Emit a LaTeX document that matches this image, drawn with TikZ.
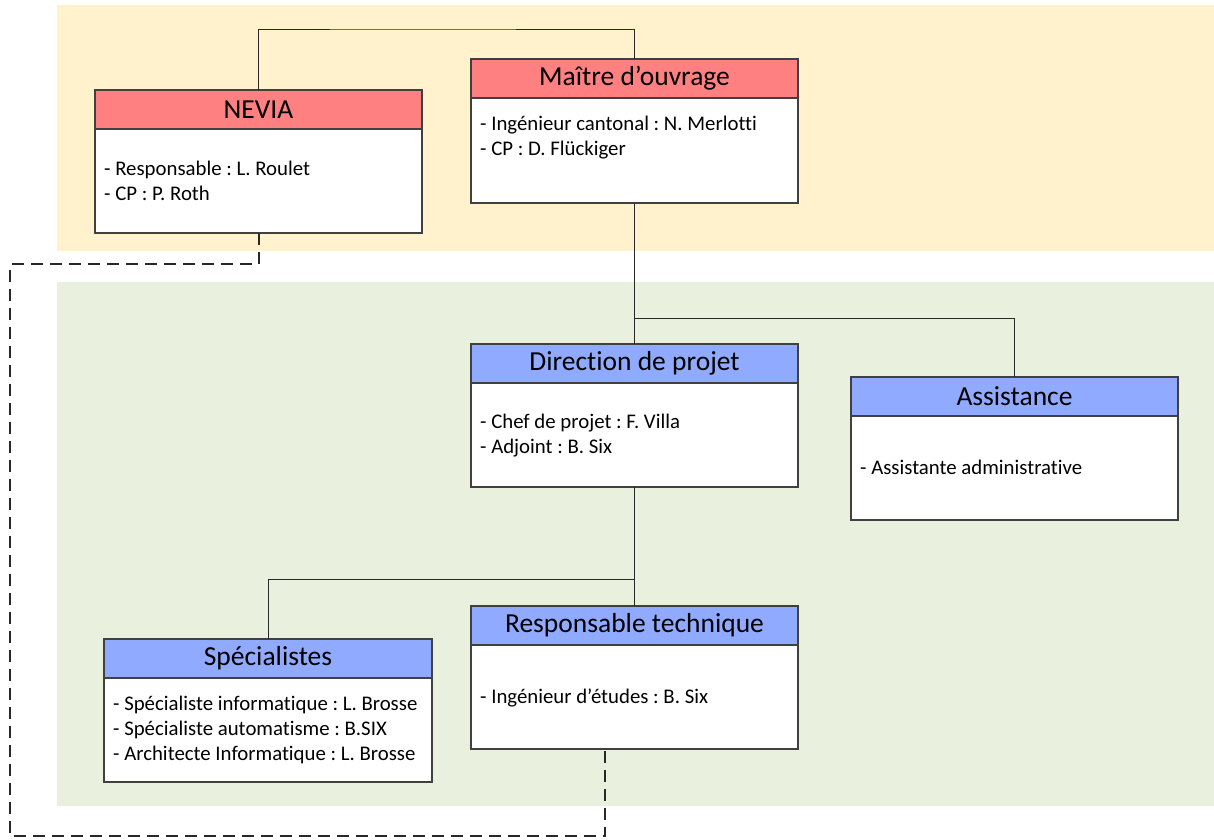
\documentclass[tikz,border=0pt]{standalone}
\usepackage{fontspec}
\setmainfont{Carlito}[Ligatures=NoCommon]
\usetikzlibrary{calc}
\frenchspacing
\definecolor{bgyellow}{RGB}{255,242,204}
\definecolor{bggreen}{RGB}{233,240,221}
\definecolor{hdrred}{RGB}{255,128,128}
\definecolor{hdrblue}{RGB}{143,170,255}
\definecolor{boxline}{RGB}{64,64,64}
\definecolor{linkgray}{RGB}{40,40,40}
\begin{document}
\begin{tikzpicture}[x=1pt,y=-1pt,
  box/.style={draw=boxline, line width=1.4pt, minimum width=327pt, inner sep=0pt, outer sep=0pt, anchor=north west},
  hdr/.style={box, minimum height=39pt, font=\fontsize{27.5}{31}\selectfont},
  redhdr/.style={hdr, fill=hdrred},
  bluehdr/.style={hdr, fill=hdrblue},
  bodybox/.style={box, minimum height=104pt, fill=white},
  info/.style={anchor=west, inner sep=0pt, align=left, font=\fontsize{20.8}{25}\selectfont},
  link/.style={draw=linkgray, line width=1pt},
  dashlink/.style={draw=linkgray, line width=2pt, dash pattern=on 12pt off 7pt}
]
\useasboundingbox (0,0) rectangle (1214,839);

% zones
\fill[bgyellow] (57,5) rectangle (1214,251);
\fill[bggreen] (57,282) rectangle (1214,806);

% routing points
\coordinate (topbar) at (400,29);
\coordinate (dirsplit) at (634.5,318);
\coordinate (rtsplit) at (634.5,579);
\coordinate (dl1) at (10,264);
\coordinate (dl2) at (10,836);

% NEVIA
\node[bodybox] (neviaBody) at (95,129) {};
\node[redhdr] (nevia) at (95,90) {NEVIA};
\node[info] (neviaTxt) at (104,181) {- Responsable : L. Roulet\\- CP : P. Roth};

% Maitre d'ouvrage
\node[bodybox, minimum height=105pt] (maitreBody) at (471,98) {};
\node[redhdr] (maitre) at (471,59) {Maître d’ouvrage};
\node[info] (maitreTxt) at (480,137.5) {- Ingénieur cantonal : N. Merlotti\\- CP : D. Flückiger};

% Direction de projet
\node[bodybox] (dirBody) at (471,383) {};
\node[bluehdr] (dir) at (471,344) {Direction de projet};
\node[info] (dirTxt) at (480,435.5) {- Chef de projet : F. Villa\\- Adjoint : B. Six};

% Assistance
\node[bodybox] (assistBody) at (851,416) {};
\node[bluehdr] (assist) at (851,377) {Assistance};
\node[info] (assistTxt) at (860,467) {- Assistante administrative};

% Specialistes
\node[bodybox, minimum width=328pt] (specBody) at (104,678) {};
\node[bluehdr, minimum width=328pt] (spec) at (104,639) {Spécialistes};
\node[info] (specTxt) at (113,730) {- Spécialiste informatique : L. Brosse\\- Spécialiste automatisme : B.SIX\\- Architecte Informatique : L. Brosse};

% Responsable technique
\node[bodybox] (rtBody) at (471,645) {};
\node[bluehdr] (rt) at (471,606) {Responsable technique};
\node[info] (rtTxt) at (480,698) {- Ingénieur d’études : B. Six};

% hierarchy connectors
\draw[link] (nevia.north) |- (topbar) -| (maitre.north);
\draw[link] (maitreBody.south) -- (dir.north);
\draw[link] (dirsplit) -| (assist.north);
\draw[link] (dirBody.south) -- (rt.north);
\draw[link] (rtsplit) -| (spec.north);

% dashed link NEVIA -> Responsable technique
\draw[dashlink] (neviaBody.south) |- (dl1) -- (dl2)
  -| ($(rtBody.south west)!0.41!(rtBody.south east)$);
\end{tikzpicture}
\end{document}
